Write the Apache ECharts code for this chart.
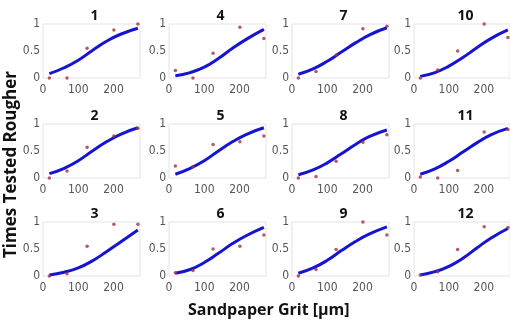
<!DOCTYPE html>
<html>
<head>
<meta charset="utf-8">
<script src="https://cdn.jsdelivr.net/npm/echarts@6/dist/echarts.min.js"></script>
<style>
  html, body { margin: 0; padding: 0; background: #fff; }
  #chart { width: 510px; height: 331px; }
</style>
</head>
<body>
<div id="chart"></div>
<script>
// grit sizes of the five sandpapers (µm)
const grit = [18, 68, 125, 201, 269]
// fraction of times tested rougher, one row per participant (panel 1..12)
const tested = [
  [0, 0, 0.55, 0.89, 1.0],
  [0, 0.13, 0.57, 0.78, 0.92],
  [0, 0.04, 0.55, 0.96, 0.96],
  [0.14, 0, 0.46, 0.94, 0.73],
  [0.22, 0.21, 0.62, 0.67, 0.78],
  [0.06, 0.1, 0.5, 0.55, 0.76],
  [0, 0.12, 0.42, 0.91, 0.96],
  [0, 0.03, 0.31, 0.66, 0.8],
  [0, 0.12, 0.49, 1.0, 0.76],
  [0, 0.15, 0.5, 1.0, 0.75],
  [0.02, 0, 0.14, 0.85, 0.9],
  [0.02, 0.08, 0.49, 0.91, 0.9]
]
// fitted curve at these grit values
const fitX = [18, 60, 100, 140, 180, 220, 269]
const fitY = [
  [0.08, 0.19, 0.33, 0.51, 0.68, 0.81, 0.92],
  [0.08, 0.18, 0.32, 0.5, 0.67, 0.81, 0.93],
  [0.02, 0.07, 0.15, 0.28, 0.45, 0.63, 0.85],
  [0.04, 0.1, 0.2, 0.36, 0.55, 0.72, 0.9],
  [0.07, 0.18, 0.32, 0.5, 0.67, 0.81, 0.93],
  [0.05, 0.12, 0.25, 0.42, 0.6, 0.75, 0.9],
  [0.07, 0.17, 0.31, 0.48, 0.65, 0.8, 0.93],
  [0.06, 0.15, 0.28, 0.45, 0.62, 0.77, 0.89],
  [0.05, 0.15, 0.29, 0.47, 0.64, 0.78, 0.91],
  [0.03, 0.1, 0.22, 0.38, 0.56, 0.73, 0.89],
  [0.07, 0.17, 0.31, 0.48, 0.65, 0.8, 0.92],
  [0.02, 0.08, 0.18, 0.33, 0.52, 0.7, 0.88]
]
const panelNames = ['1', '2', '3', '4', '5', '6', '7', '8', '9', '10', '11', '12']

const chart = echarts.init(document.getElementById('chart'))

const colLeft = [43, 169, 292, 414]
const rowTop = [24, 124, 222]
const boxW = 97
const boxH = 54
const tickFont = { fontFamily: "'Liberation Sans Narrow', 'DejaVu Sans Condensed', sans-serif", fontSize: 12, color: '#555' }

const grids = []
const xAxes = []
const yAxes = []
const titles = []
const series = []

panelNames.forEach((name, i) => {
  const col = Math.floor(i / 3)
  const row = i % 3
  grids.push({
    left: colLeft[col], top: rowTop[row], width: boxW, height: boxH,
    show: true, borderColor: '#e4e4e4', borderWidth: 1, backgroundColor: '#fff'
  })
  xAxes.push({
    gridIndex: i, type: 'value', min: 0, max: 275, interval: 100,
    axisLine: { show: false }, axisTick: { show: false }, splitLine: { show: false },
    axisLabel: Object.assign({ margin: 6, showMaxLabel: false }, tickFont)
  })
  yAxes.push({
    gridIndex: i, type: 'value', min: 0, max: 1, interval: 0.5,
    axisLine: { show: false }, axisTick: { show: false }, splitLine: { show: false },
    axisLabel: Object.assign({ margin: 3 }, tickFont)
  })
  titles.push({
    text: name, left: colLeft[col] + boxW / 2 - 2, top: rowTop[row] - 20, textAlign: 'center',
    textStyle: { fontFamily: "'Open Sans', sans-serif", fontWeight: 'bold', fontSize: 14, color: '#111' }
  })
  series.push({
    type: 'line', xAxisIndex: i, yAxisIndex: i, smooth: true, showSymbol: false,
    lineStyle: { color: '#1414d2', width: 3 },
    data: fitX.map((x, k) => [x, fitY[i][k]]),
    z: 2
  })
  series.push({
    type: 'scatter', xAxisIndex: i, yAxisIndex: i, symbolSize: 3.5, clip: false,
    itemStyle: { color: '#a23040' },
    data: grit.map((x, k) => [x, tested[i][k]]),
    z: 3
  })
})

chart.setOption({
  animation: false,
  title: titles,
  grid: grids,
  xAxis: xAxes,
  yAxis: yAxes,
  series: series,
  graphic: [
    {
      type: 'text', left: 188, top: 302,
      style: { text: 'Sandpaper Grit [µm]', font: "bold 16px 'Open Sans', sans-serif", fill: '#111' }
    },
    {
      type: 'text', x: 3, y: 258, rotation: Math.PI / 2,
      style: { text: 'Times Tested Rougher', font: "bold 17px 'Open Sans', sans-serif", fill: '#111' }
    }
  ]
})
</script>
</body>
</html>
